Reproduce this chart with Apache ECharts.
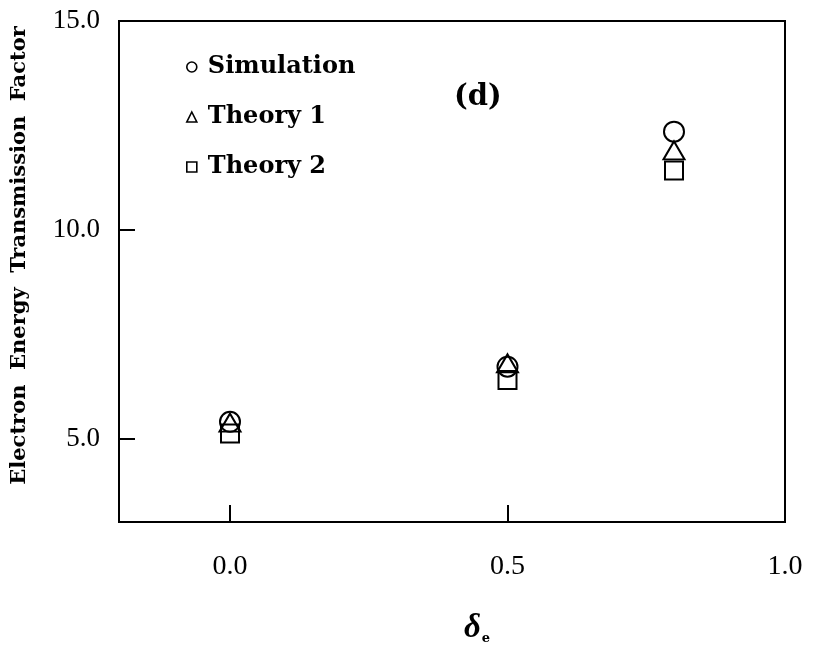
<!DOCTYPE html>
<html>
<head>
<meta charset="utf-8">
<script src="https://cdn.jsdelivr.net/npm/echarts@6/dist/echarts.min.js"></script>
<style>
  html, body { margin: 0; padding: 0; background: #fff; }
  #chart { width: 813px; height: 653px; }
</style>
</head>
<body>
<div id="chart"></div>
<script>
// delta_e values and the three transmission-factor series
const deltaE = [0.0, 0.5, 0.8];
const simulation = [5.40, 6.72, 12.35];
const theory1 = [5.38, 6.80, 11.90];
const theory2 = [5.12, 6.40, 11.42];

const xTicks = [0.0, 0.5, 1.0];
const yTicks = [5, 10, 15];

const seriesNames = ['Simulation', 'Theory 1', 'Theory 2'];

const serif = '"Liberation Serif", "Times New Roman", serif';
const boldSerif = '"DejaVu Serif", "Liberation Serif", serif';

function pairs(ys) {
  return deltaE.map((x, i) => [x, ys[i]]);
}

const hollow = { color: 'rgba(0,0,0,0)', borderColor: '#000', borderWidth: 2, opacity: 1 };
const legendIcon = { color: 'rgba(0,0,0,0)', borderColor: '#000', borderWidth: 1.6, opacity: 1 };

const chart = echarts.init(document.getElementById('chart'), null, { renderer: 'canvas' });

chart.setOption({
  backgroundColor: '#fff',
  animation: false,
  grid: {
    left: 119, right: 28, top: 21, bottom: 131,
    show: true, borderColor: '#000', borderWidth: 2
  },
  legend: {
    orient: 'vertical',
    left: 181, top: 49,
    itemWidth: 10, itemHeight: 10,
    itemGap: 24,
    selectedMode: false,
    textStyle: {
      fontFamily: boldSerif, fontWeight: 'bold', fontSize: 24,
      color: '#000', lineHeight: 26, padding: [0, 0, 0, 6]
    },
    data: [
      { name: seriesNames[0], icon: 'circle', itemStyle: legendIcon },
      { name: seriesNames[1], icon: 'triangle', itemStyle: legendIcon },
      { name: seriesNames[2], icon: 'rect', itemStyle: legendIcon }
    ]
  },
  xAxis: {
    type: 'value',
    min: -0.2, max: 1.0,
    name: '{d|δ}{s|e}',
    nameLocation: 'middle',
    nameGap: 90,
    nameTextStyle: {
      padding: [0, 0, 0, 50],
      rich: {
        d: { fontFamily: serif, fontStyle: 'italic', fontWeight: 'bold', fontSize: 33, color: '#000' },
        s: { fontFamily: boldSerif, fontWeight: 'bold', fontSize: 13, color: '#000', padding: [20, 0, 0, 1] }
      }
    },
    splitLine: { show: false },
    axisLine: { onZero: false, lineStyle: { color: '#000', width: 2 } },
    axisTick: { inside: true, length: 17, lineStyle: { color: '#000', width: 2 }, customValues: xTicks },
    axisLabel: {
      customValues: xTicks,
      formatter: v => v.toFixed(1),
      fontFamily: serif, fontSize: 28, color: '#000', margin: 31
    }
  },
  yAxis: {
    type: 'value',
    min: 3, max: 15,
    name: 'Electron  Energy  Transmission  Factor',
    nameLocation: 'middle',
    nameGap: 89,
    nameTextStyle: {
      fontFamily: boldSerif, fontWeight: 'bold', fontSize: 21, color: '#000',
      padding: [0, 0, 0, 32]
    },
    splitLine: { show: false },
    axisLine: { onZero: false, lineStyle: { color: '#000', width: 2 } },
    axisTick: { inside: true, length: 16, lineStyle: { color: '#000', width: 2 }, customValues: yTicks },
    axisLabel: {
      customValues: yTicks,
      formatter: v => v.toFixed(1),
      fontFamily: serif, fontSize: 27, color: '#000', margin: 19
    }
  },
  graphic: [
    {
      type: 'text',
      left: 454, top: 83,
      style: { text: '(d)', font: 'bold 29px ' + boldSerif, fill: '#000' }
    }
  ],
  series: [
    {
      name: seriesNames[0], type: 'scatter', data: pairs(simulation),
      symbol: 'circle', symbolSize: 20, itemStyle: hollow, z: 3
    },
    {
      name: seriesNames[1], type: 'scatter', data: pairs(theory1),
      symbol: 'triangle', symbolSize: [21, 18], itemStyle: hollow, z: 4
    },
    {
      name: seriesNames[2], type: 'scatter', data: pairs(theory2),
      symbol: 'rect', symbolSize: 18, itemStyle: hollow, z: 2
    }
  ]
});
</script>
</body>
</html>
